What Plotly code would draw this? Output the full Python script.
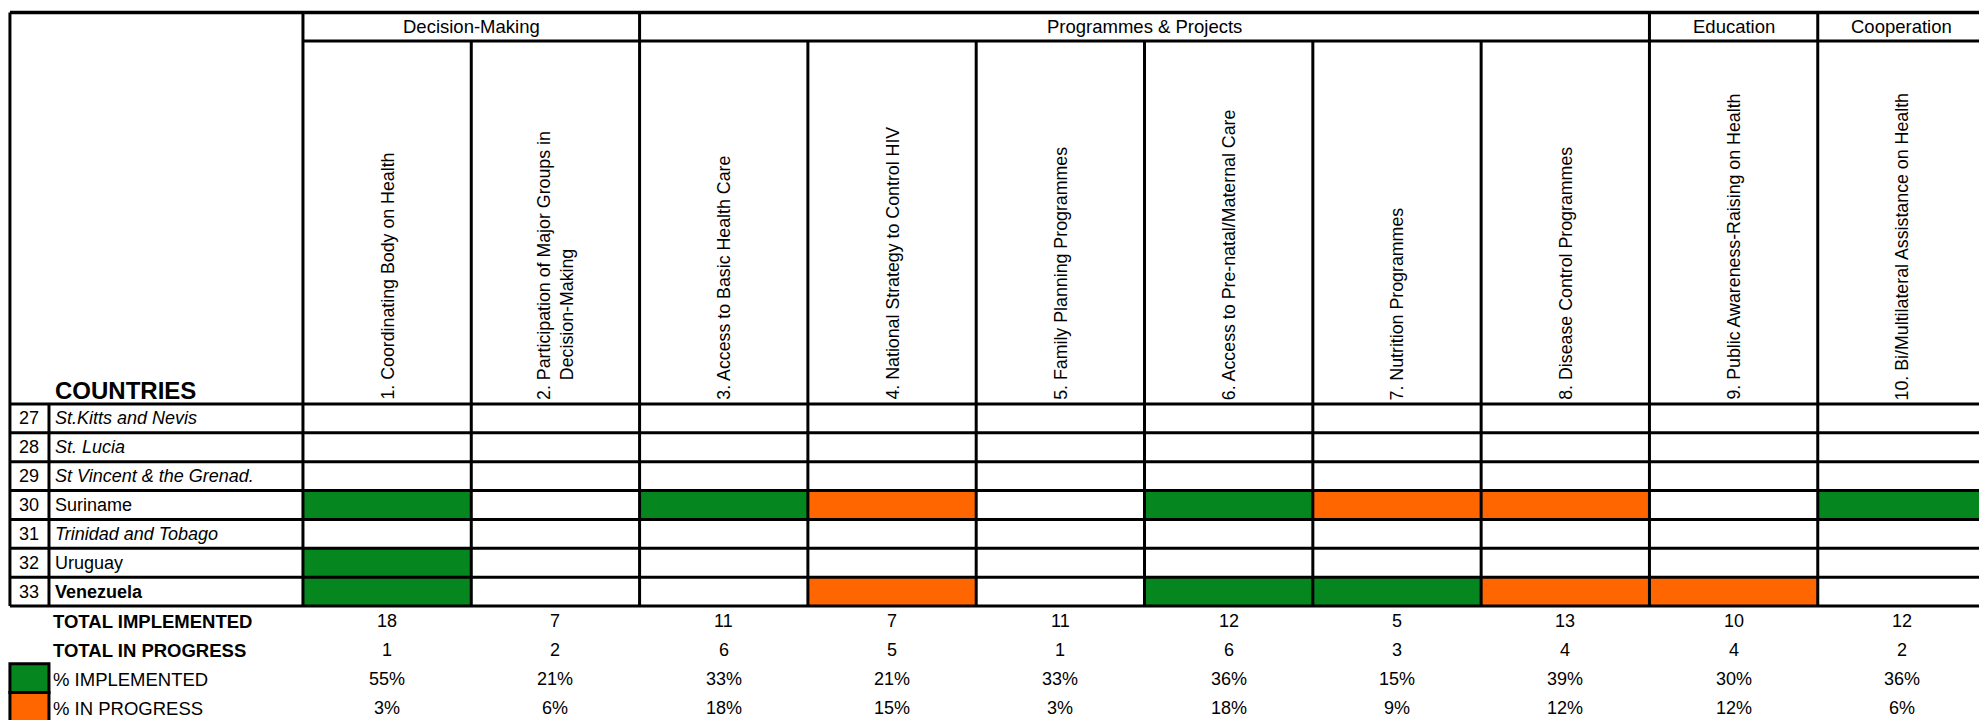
import plotly.graph_objects as go

# ---------------- data ----------------
country_numbers = [27, 28, 29, 30, 31, 32, 33]
countries = ["St.Kitts and Nevis", "St. Lucia", "St Vincent & the Grenad.", "Suriname",
             "Trinidad and Tobago", "Uruguay", "Venezuela"]
country_styles = ["italic", "italic", "italic", "normal", "italic", "normal", "bold"]

categories = ["Decision-Making", "Programmes & Projects", "Education", "Cooperation"]
category_spans = [2, 6, 1, 1]

measures = [
    "1. Coordinating Body on Health",
    "2. Participation of Major Groups in<br>\u00a0\u00a0\u00a0\u00a0Decision-Making",
    "3. Access to Basic Health Care",
    "4. National Strategy to Control HIV",
    "5. Family Planning Programmes",
    "6. Access to Pre-natal/Maternal Care",
    "7. Nutrition Programmes",
    "8. Disease Control Programmes",
    "9. Public Awareness-Raising on Health",
    "10. Bi/Multilateral Assistance on Health",
]

# status: 0 = none, 1 = implemented, 2 = in progress
status_st_kitts = [0, 0, 0, 0, 0, 0, 0, 0, 0, 0]
status_st_lucia = [0, 0, 0, 0, 0, 0, 0, 0, 0, 0]
status_st_vincent = [0, 0, 0, 0, 0, 0, 0, 0, 0, 0]
status_suriname = [1, 0, 1, 2, 0, 1, 2, 2, 0, 1]
status_trinidad = [0, 0, 0, 0, 0, 0, 0, 0, 0, 0]
status_uruguay = [1, 0, 0, 0, 0, 0, 0, 0, 0, 0]
status_venezuela = [1, 0, 0, 2, 0, 1, 1, 2, 2, 0]

total_implemented = [18, 7, 11, 7, 11, 12, 5, 13, 10, 12]
total_in_progress = [1, 2, 6, 5, 1, 6, 3, 4, 4, 2]
pct_implemented = ["55%", "21%", "33%", "21%", "33%", "36%", "15%", "39%", "30%", "36%"]
pct_in_progress = ["3%", "6%", "18%", "15%", "3%", "18%", "9%", "12%", "12%", "6%"]
summary_labels = ["TOTAL IMPLEMENTED", "TOTAL IN PROGRESS", "% IMPLEMENTED", "% IN PROGRESS"]
summary_bold = [True, True, False, False]
legend_codes = [1, 2]

# ---------------- styles / layout constants ----------------
GREEN = "#05861F"
ORANGE = "#FF6600"
FONT = "Arial, Liberation Sans, sans-serif"
LW = 3

X_MIN, X_MAX = -2.300, 9.458
NUM_LEFT, NAME_LEFT = -2.241, -2.009
Y_VIEW_TOP, Y_VIEW_BOTTOM = -14.498, 10.449
HEADER_TOP, CAT_BOTTOM, HEADER_BOTTOM = -14.066, -13.078, -0.5

status = [status_st_kitts, status_st_lucia, status_st_vincent, status_suriname,
          status_trinidad, status_uruguay, status_venezuela]
n_cols = len(measures)
n_rows = len(countries)
col_idx = list(range(n_cols))
row_idx = list(range(n_rows))
TABLE_RIGHT = n_cols - 0.5
TABLE_BOTTOM = n_rows - 0.5

colorscale = [[0, "white"], [0.33, "white"], [0.33, GREEN], [0.67, GREEN],
              [0.67, ORANGE], [1, ORANGE]]

fig = go.Figure()
fig.add_trace(go.Heatmap(x=col_idx, y=row_idx, z=status, colorscale=colorscale,
                         zmin=0, zmax=2, showscale=False, hoverinfo="skip"))
# legend keys
leg_y_edges = [n_rows + 2 - 0.5 + i for i in range(len(legend_codes) + 1)]
fig.add_trace(go.Heatmap(x=[NUM_LEFT, NAME_LEFT], y=leg_y_edges,
                         z=[[c] for c in legend_codes], colorscale=colorscale,
                         zmin=0, zmax=2, showscale=False, hoverinfo="skip"))

shapes = []
def line(x0, y0, x1, y1, w=LW):
    shapes.append(dict(type="line", xref="x", yref="y", x0=x0, y0=y0, x1=x1, y1=y1,
                       line=dict(color="black", width=w)))

# horizontal lines
line(NUM_LEFT, HEADER_TOP, TABLE_RIGHT + 1, HEADER_TOP, 3.5)
line(-0.5, CAT_BOTTOM, TABLE_RIGHT + 1, CAT_BOTTOM)
line(NUM_LEFT, HEADER_BOTTOM, TABLE_RIGHT + 1, HEADER_BOTTOM)
for r in row_idx:
    line(NUM_LEFT, r + 0.5, TABLE_RIGHT + 1, r + 0.5)
# vertical lines
line(NUM_LEFT, HEADER_TOP, NUM_LEFT, TABLE_BOTTOM)
line(NAME_LEFT, HEADER_BOTTOM, NAME_LEFT, TABLE_BOTTOM)
cat_edges = set()
acc = 0
for s in category_spans:
    cat_edges.add(acc)
    acc += s
cat_edges.add(acc)
for e in range(n_cols + 1):
    top = HEADER_TOP if e in cat_edges else CAT_BOTTOM
    line(e - 0.5, top, e - 0.5, TABLE_BOTTOM)
# legend boxes
for i in range(len(legend_codes)):
    shapes.append(dict(type="rect", xref="x", yref="y", x0=NUM_LEFT, x1=NAME_LEFT,
                       y0=leg_y_edges[i], y1=leg_y_edges[i + 1],
                       line=dict(color="black", width=LW)))

ann = []
def text(x, y, t, size=18, xanchor="center", yanchor="middle", angle=0, xshift=0, yshift=0, align="center"):
    ann.append(dict(x=x, y=y, xref="x", yref="y", text=t, showarrow=False,
                    xanchor=xanchor, yanchor=yanchor, textangle=angle,
                    xshift=xshift, yshift=yshift, align=align,
                    font=dict(family=FONT, size=size, color="black")))

# category headers
acc = 0
for c, s in zip(categories, category_spans):
    text(acc + s / 2 - 0.5, (HEADER_TOP + CAT_BOTTOM) / 2, c, size=18.5)
    acc += s
# measure headers (rotated)
for j, m in zip(col_idx, measures):
    text(j, HEADER_BOTTOM, m, size=17.8, yanchor="bottom", angle=-90, yshift=2, align="left")
# COUNTRIES
text(NAME_LEFT, HEADER_BOTTOM, "<b>COUNTRIES</b>", size=24, xanchor="left", yanchor="bottom", xshift=4, yshift=-2)
# country rows
for r, num, name, sty in zip(row_idx, country_numbers, countries, country_styles):
    text(NAME_LEFT, r, str(num), size=18, xanchor="right", xshift=-8)
    t = name
    if sty == "italic":
        t = "<i>" + name + "</i>"
    elif sty == "bold":
        t = "<b>" + name + "</b>"
    text(NAME_LEFT, r, t, size=18, xanchor="left", xshift=4)
# summary rows
summary_values = [total_implemented, total_in_progress, pct_implemented, pct_in_progress]
for k, (lab, bold, vals) in enumerate(zip(summary_labels, summary_bold, summary_values)):
    y = n_rows + k
    text(NAME_LEFT, y, "<b>" + lab + "</b>" if bold else lab, size=18.5, xanchor="left", xshift=2, yshift=-1)
    for j, v in zip(col_idx, vals):
        text(j, y, str(v), size=18, yshift=-1)

fig.update_layout(
    width=1979, height=720, margin=dict(l=0, r=0, t=0, b=0),
    paper_bgcolor="white", plot_bgcolor="white",
    xaxis=dict(range=[X_MIN, X_MAX], visible=False, fixedrange=True),
    yaxis=dict(range=[Y_VIEW_BOTTOM, Y_VIEW_TOP], visible=False, fixedrange=True),
    shapes=shapes, annotations=ann, showlegend=False,
)

fig.write_html("out.html", config={"displayModeBar": False},
               post_script="document.body.style.margin='0';document.body.style.overflow='hidden';")
